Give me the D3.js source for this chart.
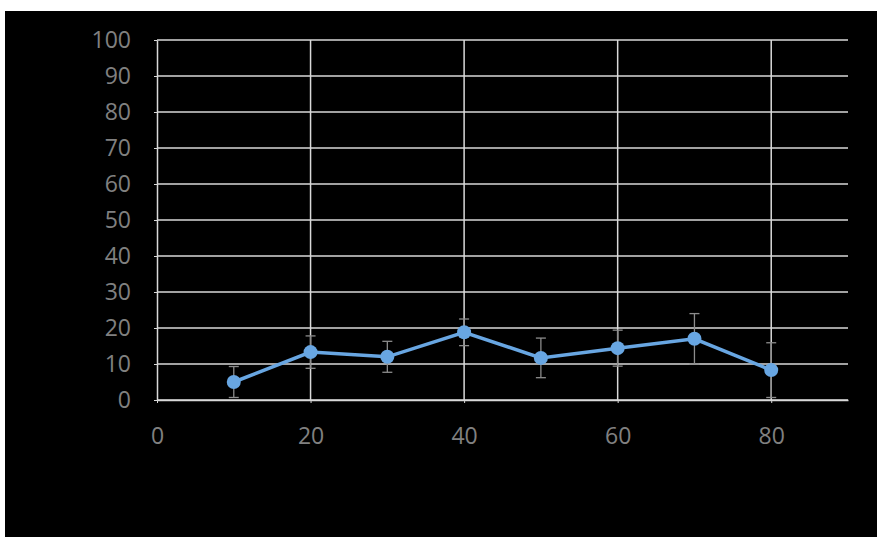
<!DOCTYPE html>
<html>
<head>
<meta charset="utf-8">
<script src="https://cdn.jsdelivr.net/npm/d3@7"></script>
<style>
  html, body { margin: 0; padding: 0; background: #ffffff; }
  svg { display: block; }
  .tick text { font-family: "Open Sans", sans-serif; }
</style>
</head>
<body>
<svg id="chart" width="877" height="537"></svg>
<script>
// Measured series: x position, mean value and error half-width
const xValues = [10, 20, 30, 40, 50, 60, 70, 80];
const yValues = [5.0, 13.3, 12.0, 18.8, 11.7, 14.4, 17.0, 8.3];
const yErrors = [4.3, 4.5, 4.3, 3.7, 5.5, 5.0, 7.0, 7.6];

const xTicks = [0, 20, 40, 60, 80];
const yTicks = [0, 10, 20, 30, 40, 50, 60, 70, 80, 90, 100];

const svg = d3.select("#chart");
const W = 877, H = 537;

// black chart area
svg.append("rect")
  .attr("x", 5).attr("y", 11)
  .attr("width", W - 5).attr("height", H - 11)
  .attr("fill", "#000000");

const plot = { left: 157, right: 848, top: 40, bottom: 400 };

const x = d3.scaleLinear().domain([0, 90]).range([plot.left, plot.right]);
const y = d3.scaleLinear().domain([0, 100]).range([plot.bottom, plot.top]);

const gridColor = "#d9d9d9";
const labelColor = "#808080";

// horizontal gridlines
svg.append("g")
  .selectAll("line")
  .data(yTicks)
  .join("line")
  .attr("x1", plot.left).attr("x2", plot.right)
  .attr("y1", d => y(d)).attr("y2", d => y(d))
  .attr("stroke", gridColor).attr("stroke-width", 1.5);

// vertical gridlines
svg.append("g")
  .selectAll("line")
  .data(xTicks.filter(d => d > 0))
  .join("line")
  .attr("x1", d => x(d)).attr("x2", d => x(d))
  .attr("y1", plot.top).attr("y2", plot.bottom)
  .attr("stroke", gridColor).attr("stroke-width", 1.5);

// y axis
const yAxis = svg.append("g")
  .attr("transform", `translate(${plot.left},0)`)
  .call(d3.axisLeft(y).tickValues(yTicks).tickSize(3).tickSizeOuter(0).tickPadding(23));
yAxis.select(".domain").attr("stroke", gridColor).attr("stroke-width", 1.5);
yAxis.selectAll(".tick line").attr("stroke", gridColor);
yAxis.selectAll(".tick text")
  .attr("fill", labelColor).attr("font-size", 23);

// x axis
const xAxis = svg.append("g")
  .attr("transform", `translate(0,${plot.bottom})`)
  .call(d3.axisBottom(x).tickValues(xTicks).tickSize(3).tickSizeOuter(0).tickPadding(25));
xAxis.select(".domain").attr("stroke", gridColor).attr("stroke-width", 1.5);
xAxis.selectAll(".tick line").attr("stroke", gridColor);
xAxis.selectAll(".tick text")
  .attr("fill", labelColor).attr("font-size", 23);

const data = xValues.map((xv, i) => ({ x: xv, y: yValues[i], e: yErrors[i] }));

// error bars
const err = svg.append("g").attr("stroke", "#8c8c8c").attr("stroke-width", 1.3);
err.selectAll("line.v").data(data).join("line").attr("class", "v")
  .attr("x1", d => x(d.x)).attr("x2", d => x(d.x))
  .attr("y1", d => y(d.y + d.e)).attr("y2", d => y(Math.max(0, d.y - d.e)));
err.selectAll("line.t").data(data).join("line").attr("class", "t")
  .attr("x1", d => x(d.x) - 5).attr("x2", d => x(d.x) + 5)
  .attr("y1", d => y(d.y + d.e)).attr("y2", d => y(d.y + d.e));
err.selectAll("line.b").data(data).join("line").attr("class", "b")
  .attr("x1", d => x(d.x) - 5).attr("x2", d => x(d.x) + 5)
  .attr("y1", d => y(Math.max(0, d.y - d.e))).attr("y2", d => y(Math.max(0, d.y - d.e)));

// series line and markers
const blue = "#68a6e2";
svg.append("path")
  .datum(data)
  .attr("fill", "none")
  .attr("stroke", blue)
  .attr("stroke-width", 3.5)
  .attr("d", d3.line().x(d => x(d.x)).y(d => y(d.y)));

svg.append("g")
  .selectAll("circle")
  .data(data)
  .join("circle")
  .attr("cx", d => x(d.x)).attr("cy", d => y(d.y))
  .attr("r", 7)
  .attr("fill", blue);
</script>
</body>
</html>
